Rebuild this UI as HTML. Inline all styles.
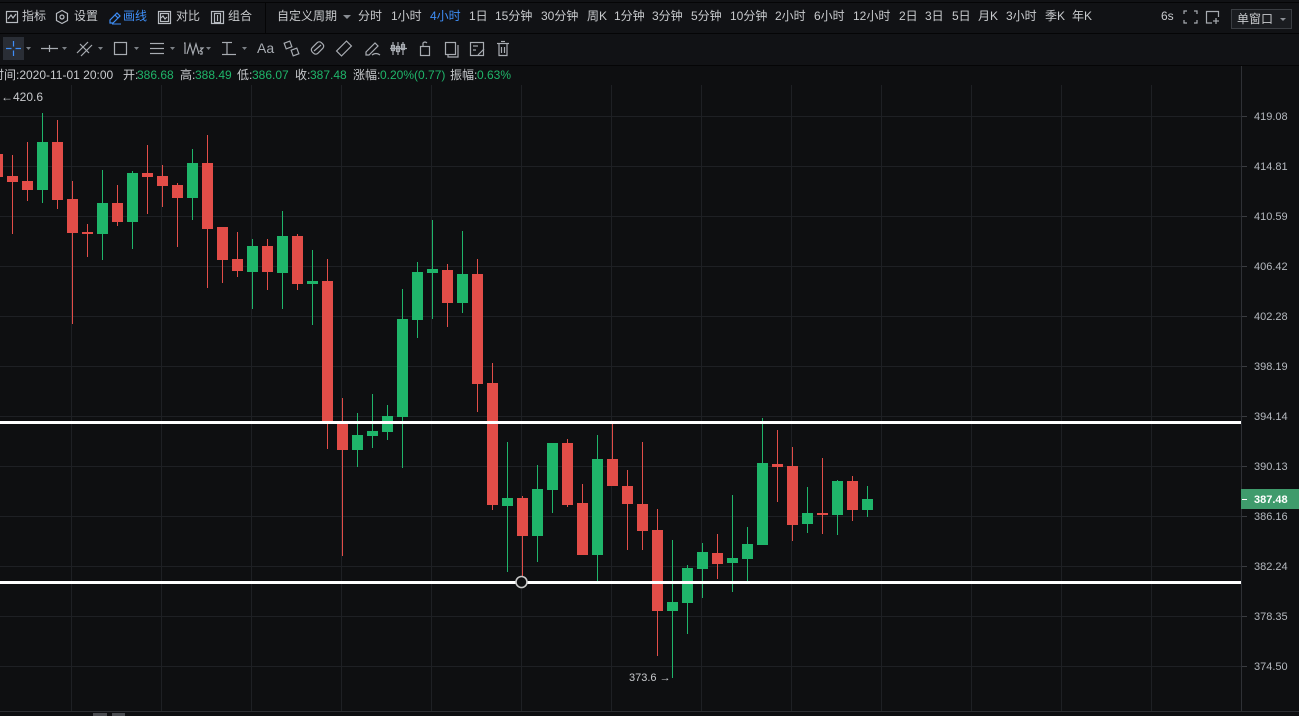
<!DOCTYPE html>
<html><head><meta charset="utf-8"><style>
*{margin:0;padding:0;box-sizing:border-box}
body{width:1299px;height:716px;overflow:hidden;background:#0e0f11;font-family:"Liberation Sans","Noto Sans CJK SC",sans-serif;color:#c8cacd;position:relative}
.t{position:absolute;font-size:12px;white-space:nowrap;z-index:2}
.r1{top:0;height:33px;line-height:33px}
.g{color:#1fb56a}
.b{color:#3e8ef7}
svg{position:absolute;left:0;top:0;z-index:1}
.bg{position:absolute;z-index:0}
</style></head><body>
<div class="bg" style="left:0;top:0;width:1299px;height:65px;background:#111215"></div>
<div class="bg" style="left:0;top:2px;width:1299px;height:1px;background:#050506"></div>
<div class="bg" style="left:0;top:33px;width:1299px;height:1px;background:#050506"></div>
<div class="bg" style="left:0;top:65px;width:1299px;height:1px;background:#050506"></div>
<div class="bg" style="left:265px;top:3px;width:1px;height:30px;background:#050506"></div>
<div class="bg" style="left:1231px;top:9px;width:61px;height:20px;border:1px solid #3a3d42;background:#1a1c20"></div>

<span class="t r1" style="left:22px">指标</span>
<span class="t r1" style="left:74px">设置</span>
<span class="t r1 b" style="left:123px">画线</span>
<span class="t r1" style="left:176px">对比</span>
<span class="t r1" style="left:228px">组合</span>
<span class="t r1" style="left:277px">自定义周期</span>
<span class="t r1" style="left:358px">分时</span>
<span class="t r1" style="left:391px">1小时</span>
<span class="t r1 b" style="left:430px">4小时</span>
<span class="t r1" style="left:469px">1日</span>
<span class="t r1" style="left:495px">15分钟</span>
<span class="t r1" style="left:541px">30分钟</span>
<span class="t r1" style="left:587px">周K</span>
<span class="t r1" style="left:614px">1分钟</span>
<span class="t r1" style="left:652px">3分钟</span>
<span class="t r1" style="left:691px">5分钟</span>
<span class="t r1" style="left:730px">10分钟</span>
<span class="t r1" style="left:775px">2小时</span>
<span class="t r1" style="left:814px">6小时</span>
<span class="t r1" style="left:853px">12小时</span>
<span class="t r1" style="left:899px">2日</span>
<span class="t r1" style="left:925px">3日</span>
<span class="t r1" style="left:952px">5日</span>
<span class="t r1" style="left:978px">月K</span>
<span class="t r1" style="left:1006px">3小时</span>
<span class="t r1" style="left:1045px">季K</span>
<span class="t r1" style="left:1072px">年K</span>
<span class="t r1" style="left:1161px">6s</span>
<span class="t" style="left:1237px;top:9px;line-height:20px">单窗口</span>

<span class="t" style="left:257px;top:37px;line-height:23px;font-size:14px;color:#a8acb2">Aa</span>

<span class="t" style="left:-8px;top:66px;line-height:19px">时间:2020-11-01 20:00</span>
<span class="t" style="left:123px;top:66px;line-height:19px">开:</span><span class="t g" style="left:137px;top:66px;line-height:19px">386.68</span>
<span class="t" style="left:180px;top:66px;line-height:19px">高:</span><span class="t g" style="left:195px;top:66px;line-height:19px">388.49</span>
<span class="t" style="left:237px;top:66px;line-height:19px">低:</span><span class="t g" style="left:252px;top:66px;line-height:19px">386.07</span>
<span class="t" style="left:295px;top:66px;line-height:19px">收:</span><span class="t g" style="left:310px;top:66px;line-height:19px">387.48</span>
<span class="t" style="left:353px;top:66px;line-height:19px">涨幅:</span><span class="t g" style="left:380px;top:66px;line-height:19px">0.20%(0.77)</span>
<span class="t" style="left:450px;top:66px;line-height:19px">振幅:</span><span class="t g" style="left:477px;top:66px;line-height:19px">0.63%</span>

<svg width="1299" height="716" viewBox="0 0 1299 716" xmlns="http://www.w3.org/2000/svg">
<!-- toolbar 1 icons -->
<g fill="none" stroke="#b8bcc2" stroke-width="1.2">
<rect x="6.5" y="11.5" width="11" height="11"/><polyline points="8,19 11,15 13,18 16,14"/>
<polygon points="62,10.5 67.5,13.5 67.5,20.5 62,23.5 56.5,20.5 56.5,13.5"/><circle cx="62" cy="17" r="2"/>
<rect x="158.5" y="11.5" width="12" height="12"/><rect x="160.5" y="13.5" width="8" height="8"/><polyline points="161,18 163,16 165,19 167,17"/>
<rect x="211.5" y="11.5" width="12" height="12"/><rect x="214.5" y="13.5" width="6" height="9"/><line x1="217.5" y1="15" x2="217.5" y2="21"/>
</g>
<path d="M110,23 L110,20 L117,13 L120,16 L113,23 Z M115,15 L118,18" fill="none" stroke="#3e8ef7" stroke-width="1.2"/>
<line x1="112" y1="24" x2="121" y2="24" stroke="#3e8ef7" stroke-width="1"/>
<path d="M343,15 L351,15 L347,19 Z" fill="#8a8e94"/>
<g fill="none" stroke="#a8acb2" stroke-width="1.2">
<polyline points="1184,14 1184,11 1187,11"/><polyline points="1194,11 1197,11 1197,14"/><polyline points="1184,20 1184,23 1187,23"/><polyline points="1194,23 1197,23 1197,20"/>
<polyline points="1212,23 1206.5,23 1206.5,11.5 1218.5,11.5 1218.5,17"/><line x1="1213" y1="21" x2="1219" y2="21"/><line x1="1216" y1="18" x2="1216" y2="24"/>
</g>
<path d="M1280,18 L1286,18 L1283,21 Z" fill="#8a8e94"/>

<!-- toolbar 2 icons -->
<rect x="3" y="37" width="21" height="23" fill="#2a2e36"/>
<g stroke="#3e8ef7" stroke-width="1.2"><line x1="6" y1="48.5" x2="11.5" y2="48.5"/><line x1="15.5" y1="48.5" x2="21" y2="48.5"/><line x1="13.5" y1="41" x2="13.5" y2="46.5"/><line x1="13.5" y1="50.5" x2="13.5" y2="56"/></g>
<g fill="#7c8086">
<path d="M26,47 L31,47 L28.5,50 Z"/><path d="M62,47 L67,47 L64.5,50 Z"/><path d="M98,47 L103,47 L100.5,50 Z"/><path d="M134,47 L139,47 L136.5,50 Z"/><path d="M170,47 L175,47 L172.5,50 Z"/><path d="M206,47 L211,47 L208.5,50 Z"/><path d="M242,47 L247,47 L244.5,50 Z"/>
</g>
<g fill="none" stroke="#a8acb2" stroke-width="1.2">
<line x1="41" y1="48.5" x2="58" y2="48.5"/><line x1="49.5" y1="45" x2="49.5" y2="52"/>
<line x1="77" y1="53" x2="88" y2="42"/><line x1="81" y1="56" x2="92" y2="45"/><line x1="80" y1="44" x2="89" y2="53"/>
<rect x="114.5" y="42.5" width="12" height="12"/>
<line x1="150" y1="43.5" x2="164" y2="43.5"/><line x1="150" y1="48.5" x2="164" y2="48.5"/><line x1="150" y1="53.5" x2="164" y2="53.5"/>
<polyline points="184,43 185,43 185,54"/><polyline points="187,54 190,44 193,54 196,44 199,54"/><path d="M200,48 L203,48 L200,51 Q203,51 202,54 L200,54"/>
<line x1="222" y1="42.5" x2="232" y2="42.5"/><line x1="227" y1="42.5" x2="227" y2="54"/><line x1="222" y1="54.5" x2="236" y2="54.5"/>
<rect x="285" y="42" width="6" height="6" transform="rotate(-20 288 45)"/><rect x="292" y="49" width="6" height="6" transform="rotate(-20 295 52)"/>
<rect x="311" y="44" width="13" height="8" rx="3" transform="rotate(-45 317.5 48)"/><line x1="314" y1="51" x2="321" y2="45"/>
<rect x="337" y="45" width="14" height="7" transform="rotate(-45 344 48.5)"/>
<path d="M366,55 L366,52 L375,43 L378,46 L369,55 Z"/><path d="M372,55 Q376,52 380,55"/>
<line x1="393" y1="42" x2="393" y2="55"/><line x1="398" y1="42" x2="398" y2="55"/><line x1="403" y1="42" x2="403" y2="55"/><rect x="391.5" y="45.5" width="3" height="5"/><rect x="396.5" y="46.5" width="3" height="5"/><rect x="401.5" y="44.5" width="3" height="5"/><line x1="390" y1="48.5" x2="407" y2="48.5"/>
<rect x="420.5" y="46.5" width="9" height="9"/><path d="M423,46 L423,43 Q425,41 427,43"/>
<rect x="445.5" y="42.5" width="10" height="12"/><polyline points="448,55 448,57 458,57 458,45"/>
<rect x="470.5" y="42.5" width="13" height="13"/><line x1="473" y1="46" x2="478" y2="46"/><line x1="473" y1="50" x2="476" y2="50"/><path d="M478,55 L484,49"/>
<line x1="497" y1="43.5" x2="509" y2="43.5"/><path d="M499,44 L499,55.5 L507,55.5 L507,44"/><line x1="501.5" y1="47" x2="501.5" y2="53"/><line x1="504.5" y1="47" x2="504.5" y2="53"/><line x1="501" y1="41.5" x2="505" y2="41.5"/>
</g>

<!-- grid -->
<g stroke="#1e2024" stroke-width="1">
<line x1="71.5" y1="66" x2="71.5" y2="711"/><line x1="161.5" y1="66" x2="161.5" y2="711"/><line x1="251.5" y1="66" x2="251.5" y2="711"/><line x1="341.5" y1="66" x2="341.5" y2="711"/><line x1="431.5" y1="66" x2="431.5" y2="711"/><line x1="521.5" y1="66" x2="521.5" y2="711"/><line x1="611.5" y1="66" x2="611.5" y2="711"/><line x1="701.5" y1="66" x2="701.5" y2="711"/><line x1="791.5" y1="66" x2="791.5" y2="711"/><line x1="881.5" y1="66" x2="881.5" y2="711"/><line x1="971.5" y1="66" x2="971.5" y2="711"/><line x1="1061.5" y1="66" x2="1061.5" y2="711"/><line x1="1151.5" y1="66" x2="1151.5" y2="711"/>
<line x1="0" y1="116.5" x2="1241" y2="116.5"/><line x1="0" y1="166.5" x2="1241" y2="166.5"/><line x1="0" y1="216.5" x2="1241" y2="216.5"/><line x1="0" y1="266.5" x2="1241" y2="266.5"/><line x1="0" y1="316.5" x2="1241" y2="316.5"/><line x1="0" y1="366.5" x2="1241" y2="366.5"/><line x1="0" y1="416.5" x2="1241" y2="416.5"/><line x1="0" y1="466.5" x2="1241" y2="466.5"/><line x1="0" y1="516.5" x2="1241" y2="516.5"/><line x1="0" y1="566.5" x2="1241" y2="566.5"/><line x1="0" y1="616.5" x2="1241" y2="616.5"/><line x1="0" y1="666.5" x2="1241" y2="666.5"/>
</g>
<rect x="0" y="66" width="1241" height="19" fill="#0e0f11"/>
<g stroke="#3a3c41" stroke-width="1">
<line x1="1241" y1="116.5" x2="1247" y2="116.5"/><line x1="1241" y1="166.5" x2="1247" y2="166.5"/><line x1="1241" y1="216.5" x2="1247" y2="216.5"/><line x1="1241" y1="266.5" x2="1247" y2="266.5"/><line x1="1241" y1="316.5" x2="1247" y2="316.5"/><line x1="1241" y1="366.5" x2="1247" y2="366.5"/><line x1="1241" y1="416.5" x2="1247" y2="416.5"/><line x1="1241" y1="466.5" x2="1247" y2="466.5"/><line x1="1241" y1="516.5" x2="1247" y2="516.5"/><line x1="1241" y1="566.5" x2="1247" y2="566.5"/><line x1="1241" y1="616.5" x2="1247" y2="616.5"/><line x1="1241" y1="666.5" x2="1247" y2="666.5"/>
</g>
<line x1="1241.5" y1="66" x2="1241.5" y2="711" stroke="#2e3035"/>
<line x1="0" y1="711.5" x2="1299" y2="711.5" stroke="#2c2e32"/>
<rect x="93" y="713" width="14" height="3" fill="#4a4c50"/><rect x="112" y="713" width="13" height="3" fill="#4a4c50"/>

<g font-family="Liberation Sans, sans-serif" font-size="11" fill="#b5b9bf">
<text x="1254" y="120">419.08</text><text x="1254" y="170">414.81</text><text x="1254" y="220">410.59</text><text x="1254" y="270">406.42</text><text x="1254" y="320">402.28</text><text x="1254" y="370">398.19</text><text x="1254" y="420">394.14</text><text x="1254" y="470">390.13</text><text x="1254" y="520">386.16</text><text x="1254" y="570">382.24</text><text x="1254" y="620">378.35</text><text x="1254" y="670">374.50</text>
</g>
<rect x="1241" y="489" width="58" height="20" fill="#3f9b6c"/>
<line x1="1242" y1="499.5" x2="1247" y2="499.5" stroke="#fff"/>
<text x="1254" y="503" font-family="Liberation Sans, sans-serif" font-size="11" font-weight="bold" fill="#fff">387.48</text>

<!-- red candles -->
<g fill="#e24d48">
<rect x="-8" y="154" width="11" height="23"/>
<rect x="12" y="155" width="1" height="79"/><rect x="7" y="176" width="11" height="6"/>
<rect x="27" y="142" width="1" height="59"/><rect x="22" y="181" width="11" height="9"/>
<rect x="57" y="120" width="1" height="89"/><rect x="52" y="142" width="11" height="58"/>
<rect x="72" y="181" width="1" height="143"/><rect x="67" y="199" width="11" height="34"/>
<rect x="87" y="224" width="1" height="33"/><rect x="82" y="232" width="11" height="2"/>
<rect x="117" y="185" width="1" height="41"/><rect x="112" y="203" width="11" height="19"/>
<rect x="147" y="145" width="1" height="69"/><rect x="142" y="173" width="11" height="4"/>
<rect x="162" y="165" width="1" height="42"/><rect x="157" y="176" width="11" height="10"/>
<rect x="177" y="183" width="1" height="64"/><rect x="172" y="185" width="11" height="13"/>
<rect x="207" y="135" width="1" height="153"/><rect x="202" y="163" width="11" height="66"/>
<rect x="222" y="227" width="1" height="56"/><rect x="217" y="227" width="11" height="33"/>
<rect x="237" y="232" width="1" height="45"/><rect x="232" y="259" width="11" height="12"/>
<rect x="267" y="239" width="1" height="51"/><rect x="262" y="246" width="11" height="26"/>
<rect x="297" y="234" width="1" height="56"/><rect x="292" y="236" width="11" height="48"/>
<rect x="327" y="259" width="1" height="190"/><rect x="322" y="281" width="11" height="141"/>
<rect x="342" y="398" width="1" height="158"/><rect x="337" y="423" width="11" height="27"/>
<rect x="447" y="264" width="1" height="63"/><rect x="442" y="270" width="11" height="33"/>
<rect x="477" y="259" width="1" height="153"/><rect x="472" y="274" width="11" height="110"/>
<rect x="492" y="363" width="1" height="147"/><rect x="487" y="383" width="11" height="122"/>
<rect x="522" y="496" width="1" height="81"/><rect x="517" y="498" width="11" height="38"/>
<rect x="567" y="439" width="1" height="68"/><rect x="562" y="443" width="11" height="62"/>
<rect x="582" y="484" width="1" height="71"/><rect x="577" y="503" width="11" height="52"/>
<rect x="612" y="423" width="1" height="63"/><rect x="607" y="459" width="11" height="27"/>
<rect x="627" y="470" width="1" height="80"/><rect x="622" y="486" width="11" height="18"/>
<rect x="642" y="442" width="1" height="108"/><rect x="637" y="504" width="11" height="27"/>
<rect x="657" y="509" width="1" height="147"/><rect x="652" y="530" width="11" height="81"/>
<rect x="717" y="534" width="1" height="45"/><rect x="712" y="553" width="11" height="11"/>
<rect x="777" y="430" width="1" height="72"/><rect x="772" y="464" width="11" height="3"/>
<rect x="792" y="447" width="1" height="94"/><rect x="787" y="466" width="11" height="59"/>
<rect x="822" y="458" width="1" height="76"/><rect x="817" y="513" width="11" height="2"/>
<rect x="852" y="476" width="1" height="45"/><rect x="847" y="481" width="11" height="29"/>
</g>
<!-- green candles -->
<g fill="#1fb56a">
<rect x="42" y="113" width="1" height="90"/><rect x="37" y="142" width="11" height="48"/>
<rect x="102" y="170" width="1" height="90"/><rect x="97" y="203" width="11" height="31"/>
<rect x="132" y="171" width="1" height="78"/><rect x="127" y="173" width="11" height="49"/>
<rect x="192" y="149" width="1" height="71"/><rect x="187" y="163" width="11" height="35"/>
<rect x="252" y="239" width="1" height="70"/><rect x="247" y="246" width="11" height="26"/>
<rect x="282" y="211" width="1" height="98"/><rect x="277" y="236" width="11" height="37"/>
<rect x="312" y="250" width="1" height="75"/><rect x="307" y="281" width="11" height="3"/>
<rect x="357" y="413" width="1" height="54"/><rect x="352" y="435" width="11" height="15"/>
<rect x="372" y="394" width="1" height="54"/><rect x="367" y="431" width="11" height="5"/>
<rect x="387" y="405" width="1" height="35"/><rect x="382" y="416" width="11" height="16"/>
<rect x="402" y="289" width="1" height="179"/><rect x="397" y="319" width="11" height="98"/>
<rect x="417" y="262" width="1" height="76"/><rect x="412" y="272" width="11" height="48"/>
<rect x="432" y="220" width="1" height="99"/><rect x="427" y="269" width="11" height="4"/>
<rect x="462" y="231" width="1" height="82"/><rect x="457" y="274" width="11" height="29"/>
<rect x="507" y="442" width="1" height="130"/><rect x="502" y="498" width="11" height="8"/>
<rect x="537" y="465" width="1" height="97"/><rect x="532" y="489" width="11" height="47"/>
<rect x="552" y="443" width="1" height="70"/><rect x="547" y="443" width="11" height="47"/>
<rect x="597" y="435" width="1" height="146"/><rect x="592" y="459" width="11" height="96"/>
<rect x="672" y="540" width="1" height="138"/><rect x="667" y="602" width="11" height="9"/>
<rect x="687" y="565" width="1" height="69"/><rect x="682" y="568" width="11" height="35"/>
<rect x="702" y="543" width="1" height="55"/><rect x="697" y="552" width="11" height="17"/>
<rect x="732" y="495" width="1" height="97"/><rect x="727" y="558" width="11" height="5"/>
<rect x="747" y="527" width="1" height="55"/><rect x="742" y="544" width="11" height="15"/>
<rect x="762" y="418" width="1" height="127"/><rect x="757" y="463" width="11" height="82"/>
<rect x="807" y="487" width="1" height="46"/><rect x="802" y="513" width="11" height="11"/>
<rect x="837" y="480" width="1" height="55"/><rect x="832" y="481" width="11" height="34"/>
<rect x="867" y="486" width="1" height="31"/><rect x="862" y="499" width="11" height="11"/>
</g>

<!-- drawn lines -->
<rect x="0" y="421" width="1241" height="3" fill="#ffffff"/>
<rect x="0" y="581" width="1241" height="3" fill="#ffffff"/>
<circle cx="521.5" cy="582" r="5.5" fill="#0e0f11" stroke="#c8c8c8" stroke-width="1.6"/>

<text x="629" y="681" font-family="Liberation Sans, sans-serif" font-size="11" fill="#c8cacd">373.6 →</text>
<text x="1" y="101" font-family="Liberation Sans, sans-serif" font-size="12" fill="#c8cacd">←420.6</text>
</svg>
</body></html>
